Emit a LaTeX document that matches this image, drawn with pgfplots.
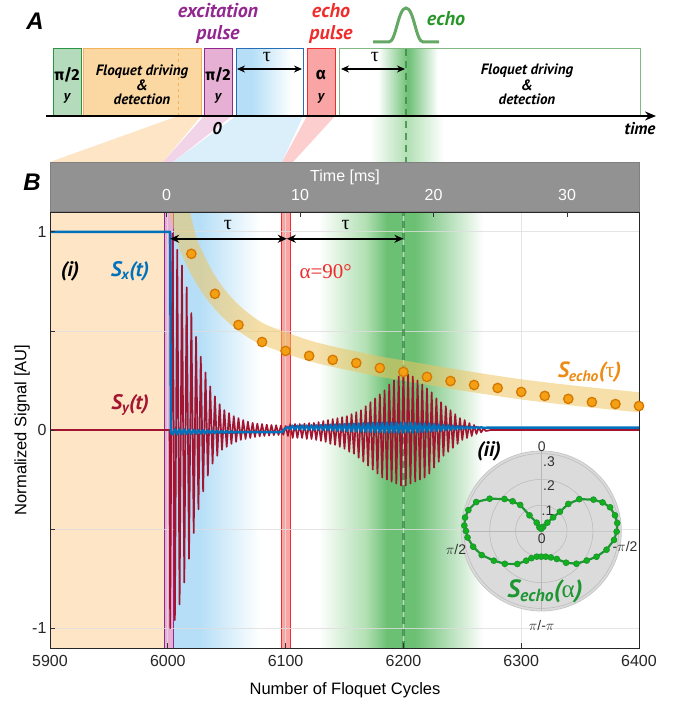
\documentclass[border=0pt]{standalone}
\usepackage{fontspec}
\usepackage{pgfplots}
\pgfplotsset{compat=1.18}
\usepgfplotslibrary{polar}
\usetikzlibrary{arrows.meta}
\setmainfont{Liberation Sans}
\newfontfamily\pts{PT Sans}
\newfontfamily\fira{Fira Sans}
\newfontfamily\tms{Liberation Serif}
\newcommand\fs[1]{\fontsize{#1}{#1}\selectfont}
\newcommand\bi{\pts\bfseries\itshape}
\definecolor{cSy}{RGB}{162,20,47}
\definecolor{cSx}{RGB}{0,114,189}
\definecolor{cOrBg}{RGB}{253,229,198}
\definecolor{cOrBox}{RGB}{251,216,162}
\definecolor{cOrLine}{RGB}{245,178,90}
\definecolor{cPink}{RGB}{229,176,212}
\definecolor{cPurp}{RGB}{146,39,143}
\definecolor{cBlue}{RGB}{182,223,247}
\definecolor{cBlueLine}{RGB}{40,110,180}
\definecolor{cRedBg}{RGB}{250,165,165}
\definecolor{cRed}{RGB}{238,45,45}
\definecolor{cGreen}{RGB}{108,192,116}
\definecolor{cGreenL}{RGB}{178,224,180}
\definecolor{cDGreen}{RGB}{62,135,72}
\definecolor{cGBox}{RGB}{180,220,188}
\definecolor{cGBoxLine}{RGB}{40,150,70}
\definecolor{cGBoxLine2}{RGB}{130,185,130}
\definecolor{cBell}{RGB}{100,168,100}
\definecolor{cBand}{RGB}{238,196,96}
\definecolor{cCirc}{RGB}{243,160,20}
\definecolor{cCircE}{RGB}{214,120,0}
\definecolor{cOrTxt}{RGB}{236,140,20}
\definecolor{cGray}{RGB}{146,146,146}
\definecolor{cEcho}{RGB}{30,150,50}
\definecolor{cEchoTxt}{RGB}{40,150,40}
\definecolor{cGrid}{RGB}{222,222,222}
\begin{document}
\begin{tikzpicture}[x=1pt,y=1pt]
\path[use as bounding box] (0pt,0pt) rectangle (691pt,705pt);
% ---------------- Panel A ----------------
\fill[cOrBg] (178,589) -- (201,589) -- (163,543) -- (50,543) -- cycle;
\fill[cPink!55] (204,589) -- (232,589) -- (173,543) -- (163,543) -- cycle;
\fill[cBlue!50] (236,589) -- (303,589) -- (282,543) -- (173,543) -- cycle;
\fill[cRedBg!55] (307,589) -- (335,589) -- (293,543) -- (282,543) -- cycle;
\shade[left color=white, right color=white, middle color=cGreenL] (370,543) rectangle (444,589);
\filldraw[fill=cGBox, draw=cGBoxLine, line width=1pt] (53,589) rectangle (81,656);
\filldraw[fill=cOrBox, draw=cOrLine, line width=1pt] (83,589) rectangle (201,656);
\draw[cOrLine, dashed, line width=0.8pt] (178,589) -- (178,656);
\filldraw[fill=cPink, draw=cPurp, line width=1pt] (204,589) rectangle (232,656);
\fill[cBlue] (236,589) rectangle (252,656);
\shade[left color=cBlue, right color=white] (252,589) rectangle (292,656);
\draw[cBlueLine, line width=1pt] (236,589) rectangle (303,656);
\filldraw[fill=cRedBg, draw=cRed, line width=1pt] (307,589) rectangle (335,656);
\fill[white] (339,589) rectangle (640,656);
\shade[left color=white, right color=white, middle color=cGreen] (378,589) rectangle (438,656);
\draw[cGBoxLine2, line width=1pt] (339,589) rectangle (640,656);
\draw[cDGreen, line width=2.5pt, dash pattern=on 7pt off 5pt, opacity=0.8] (406,656) -- (406,543);
\draw[line width=1.8pt, -{Stealth[length=11pt,width=9pt]}] (46,589) -- (656,589);
\draw[line width=2pt, {Stealth[length=8pt,width=7pt]}-{Stealth[length=8pt,width=7pt]}] (237,636) -- (302,636);
\draw[line width=2pt, {Stealth[length=8pt,width=7pt]}-{Stealth[length=8pt,width=7pt]}] (341,636) -- (405,636);
\node at (267,648) {\fs{20}\tms τ};
\node at (375,648) {\fs{20}\tms τ};
\draw[cBell, line width=3pt] (373,663) -- (389,663) .. controls (396,663) and (398,697) .. (406,697) .. controls (414,697) and (416,663) .. (423,663) -- (439,663);
\node at (35,684) {\fs{24}\bfseries\itshape A};
\node[text=cPurp, anchor=base] at (218,687) {\fs{20}\bi excitation};
\node[text=cPurp, anchor=base] at (218,665) {\fs{20}\bi pulse};
\node[text=cRed, anchor=base] at (331,687) {\fs{20}\bi echo};
\node[text=cRed, anchor=base] at (331,665) {\fs{20}\bi pulse};
\node[text=cEchoTxt, anchor=base] at (446,679) {\fs{20}\bi echo};
\node at (67,630) {\fs{16}\fira\bfseries π/2};
\node at (67,607) {\fs{14}\bi y};
\node at (218,630) {\fs{16}\fira\bfseries π/2};
\node at (218,607) {\fs{14}\bi y};
\node at (321,630) {\fs{17}\fira\bfseries α};
\node at (321,607) {\fs{14}\bi y};
\node at (142,633) {\fs{15}\bi Floquet driving};
\node at (142,620) {\fs{15}\bi \&};
\node at (142,606) {\fs{15}\bi detection};
\node at (527,634) {\fs{15}\bi Floquet driving};
\node at (527,620) {\fs{15}\bi \&};
\node at (527,606) {\fs{15}\bi detection};
\node at (217,576) {\fs{17}\bi 0};
\node at (640,576) {\fs{17}\bi time};
% ---------------- Panel B ----------------
\node at (32,523) {\fs{24}\bfseries\itshape B};
\begin{axis}[
  at={(50pt,57pt)}, anchor=south west, scale only axis, width=589pt, height=436pt,
  xmin=5900, xmax=6400, ymin=-1.1, ymax=1.1,
  xtick={5900,6000,6100,6200,6300,6400}, xticklabels={5900,6000,6100,6200,6300,6400},
  ytick={-1,-0.5,0,0.5,1}, yticklabels={-1,,0,,1},
  tick align=inside, xtick pos=left, ytick pos=left,
  major tick length=5pt,
  tick style={black!80, line width=0.7pt},
  axis line style={black!85, line width=0.9pt},
  ticklabel style={font=\fs{16}, text=black!85},
  xticklabel style={yshift=-4pt},
  axis on top,
]
\fill[cOrBg] (axis cs:5900,-1.1) rectangle (axis cs:5997.5,1.1);
\fill[cBlue] (axis cs:6005,-1.1) rectangle (axis cs:6028,1.1);
\shade[left color=cBlue, right color=white] (axis cs:6028,-1.1) rectangle (axis cs:6078,1.1);
\shade[left color=white, right color=cGreenL] (axis cs:6128,-1.1) rectangle (axis cs:6168,1.1);
\shade[left color=cGreenL, right color=cGreen] (axis cs:6168,-1.1) rectangle (axis cs:6186,1.1);
\fill[cGreen] (axis cs:6186,-1.1) rectangle (axis cs:6210,1.1);
\shade[left color=cGreen, right color=white] (axis cs:6210,-1.1) rectangle (axis cs:6268,1.1);
\filldraw[fill=cPink, draw=cPurp, line width=1pt] (axis cs:5997.5,-1.2) rectangle (axis cs:6005,1.2);
\filldraw[fill=cRedBg, draw=cRed, line width=1pt] (axis cs:6096.5,-1.2) rectangle (axis cs:6104.5,1.2);
\draw[cGrid, line width=0.7pt, opacity=0.8] (axis cs:6000,-1.1) -- (axis cs:6000,1.1);
\draw[cGrid, line width=0.7pt, opacity=0.8] (axis cs:6100,-1.1) -- (axis cs:6100,1.1);
\draw[cGrid, line width=0.7pt, opacity=0.8] (axis cs:6200,-1.1) -- (axis cs:6200,1.1);
\draw[cGrid, line width=0.7pt, opacity=0.8] (axis cs:6300,-1.1) -- (axis cs:6300,1.1);
\draw[cGrid, line width=0.7pt, opacity=0.8] (axis cs:5900,-1) -- (axis cs:6400,-1);
\draw[cGrid, line width=0.7pt, opacity=0.8] (axis cs:5900,-0.5) -- (axis cs:6400,-0.5);
\draw[cGrid, line width=0.7pt, opacity=0.8] (axis cs:5900,0) -- (axis cs:6400,0);
\draw[cGrid, line width=0.7pt, opacity=0.8] (axis cs:5900,0.5) -- (axis cs:6400,0.5);
\draw[cGrid, line width=0.7pt, opacity=0.8] (axis cs:5900,1) -- (axis cs:6400,1);
\draw[cDGreen, line width=2.5pt, dash pattern=on 7pt off 5pt, opacity=0.75] (axis cs:6200,-1.1) -- (axis cs:6200,1.1);
% S_echo(tau) fit band
\addplot[cBand, opacity=0.55, line width=20pt, smooth] coordinates {
(6008,1.16) (6015,0.98) (6020,0.90) (6030,0.78) (6040,0.69) (6050,0.62) (6060,0.565) (6070,0.52) (6080,0.485) (6100,0.44) (6120,0.40) (6140,0.37) (6160,0.345) (6180,0.32) (6200,0.30) (6250,0.25) (6300,0.205) (6350,0.17) (6400,0.14)};
% S_y(t)
\addplot[cSy, line width=1.7pt, line join=round] coordinates {
(5900,0) (6001.5,0) (6002,-1.00) (6004,0.99) (6006,-0.96) (6008,0.91) (6010,-0.88) (6012,0.83) (6014,-0.77) (6016,0.72) (6018,-0.65) (6020,0.59) (6022,-0.52) (6024,0.47) (6026,-0.40) (6028,0.37) (6030,-0.31) (6032,0.29) (6034,-0.23) (6036,0.22) (6038,-0.17) (6040,0.17) (6042,-0.13) (6044,0.13) (6046,-0.10) (6048,0.10) (6050,-0.085) (6052,0.085) (6054,-0.07) (6056,0.07) (6058,-0.06) (6060,0.06) (6062,-0.05) (6064,0.05) (6066,-0.045) (6068,0.042) (6070,-0.04) (6072,0.036) (6074,-0.035) (6076,0.032) (6078,-0.032) (6080,0.03) (6082,-0.03) (6084,0.027) (6086,-0.028) (6088,0.025) (6090,-0.026) (6092,0.024) (6094,-0.025) (6096,0.022) (6098,-0.024) (6100,0.02) (6102,-0.03)
(6104,0.03) (6106,-0.04) (6108,0.03) (6110,-0.04) (6112,0.03) (6114,-0.04) (6116,0.032) (6118,-0.045) (6120,0.035) (6122,-0.045) (6124,0.036) (6126,-0.05) (6128,0.04) (6130,-0.055) (6132,0.045) (6134,-0.06) (6136,0.05) (6138,-0.07) (6140,0.055) (6142,-0.075) (6144,0.06) (6146,-0.085) (6148,0.065) (6150,-0.095) (6152,0.07) (6154,-0.11) (6156,0.08) (6158,-0.12) (6160,0.09) (6162,-0.14) (6164,0.10) (6166,-0.16) (6168,0.12) (6170,-0.18) (6172,0.14) (6174,-0.20) (6176,0.16) (6178,-0.22) (6180,0.18) (6182,-0.24) (6184,0.20) (6186,-0.25) (6188,0.23) (6190,-0.26) (6192,0.25) (6194,-0.27) (6196,0.27) (6198,-0.28) (6200,0.29) (6202,-0.28) (6204,0.28) (6206,-0.27) (6208,0.27) (6210,-0.26) (6212,0.25) (6214,-0.25) (6216,0.23) (6218,-0.24) (6220,0.21) (6222,-0.22) (6224,0.19) (6226,-0.19) (6228,0.16) (6230,-0.16) (6232,0.14) (6234,-0.13) (6236,0.12) (6238,-0.11) (6240,0.10) (6242,-0.09) (6244,0.08) (6246,-0.07) (6248,0.06) (6250,-0.05) (6252,0.05) (6254,-0.04) (6256,0.035) (6258,-0.03) (6260,0.025) (6262,-0.02) (6264,0.015) (6266,-0.012) (6268,0.008) (6270,-0.005) (6274,0) (6400,0)};
% S_x(t)
\addplot[cSx, line width=2.4pt, line join=round] coordinates {
(5900,1) (6002,1) (6002.6,-0.012)
(6004,-0.022) (6006,0.004) (6008,-0.022) (6010,0.004) (6012,-0.021) (6014,0.003) (6016,-0.020) (6018,0.002) (6020,-0.019) (6022,0.001) (6024,-0.018) (6026,0.000) (6028,-0.018) (6030,-0.001) (6032,-0.017) (6034,-0.002) (6036,-0.016) (6038,-0.003) (6040,-0.016) (6042,-0.004) (6044,-0.015) (6046,-0.005) (6048,-0.015) (6050,-0.006) (6052,-0.014) (6054,-0.007) (6056,-0.014) (6058,-0.008) (6060,-0.013) (6062,-0.009) (6064,-0.012) (6066,-0.010) (6070,-0.011) (6097,-0.011) (6099,0.004)
(6102,0.016) (6104,0.004) (6106,0.022) (6108,0.003) (6110,0.022) (6112,0.003) (6114,0.023) (6116,0.002) (6118,0.023) (6120,0.002) (6122,0.024) (6124,0.001) (6126,0.024) (6128,0.001) (6130,0.025) (6132,0.000) (6134,0.026) (6136,-0.001) (6138,0.027) (6140,-0.002) (6142,0.028) (6144,-0.003) (6146,0.029) (6148,-0.004) (6150,0.030) (6152,-0.005) (6154,0.031) (6156,-0.006) (6158,0.032) (6160,-0.007) (6162,0.033) (6164,-0.008) (6166,0.034) (6168,-0.009) (6170,0.035) (6172,-0.010) (6174,0.036) (6176,-0.011) (6178,0.036) (6180,-0.012) (6182,0.037) (6184,-0.012) (6186,0.037) (6188,-0.013) (6190,0.037) (6192,-0.013) (6194,0.037) (6196,-0.013) (6198,0.037) (6200,-0.013) (6202,0.036) (6204,-0.012) (6206,0.036) (6208,-0.012) (6210,0.035) (6212,-0.011) (6214,0.034) (6216,-0.010) (6218,0.033) (6220,-0.009) (6222,0.032) (6224,-0.007) (6226,0.030) (6228,-0.005) (6230,0.028) (6232,-0.003) (6234,0.026) (6236,-0.001) (6238,0.024) (6240,0.001) (6242,0.022) (6244,0.003) (6246,0.020) (6248,0.005) (6250,0.018) (6252,0.007) (6254,0.017) (6256,0.008) (6258,0.016) (6260,0.009) (6262,0.015) (6264,0.010) (6266,0.014) (6268,0.011) (6272,0.012) (6400,0.012)};
% S_echo(tau) points
\addplot[only marks, mark=*, mark size=4.7pt, mark options={fill=cCirc, draw=cCircE, line width=1.3pt}] coordinates {
(6020,0.889) (6040,0.687) (6060,0.530) (6080,0.444) (6100,0.399) (6120,0.374) (6140,0.354) (6160,0.338) (6180,0.313) (6200,0.293) (6220,0.268) (6240,0.247) (6260,0.227) (6280,0.212) (6300,0.192) (6320,0.172) (6340,0.157) (6360,0.141) (6380,0.131) (6400,0.121)};
\draw[line width=2pt, {Stealth[length=9pt,width=8pt]}-{Stealth[length=9pt,width=8pt]}] (axis cs:6002,0.965) -- (axis cs:6101,0.965);
\draw[line width=2pt, {Stealth[length=9pt,width=8pt]}-{Stealth[length=9pt,width=8pt]}] (axis cs:6101,0.965) -- (axis cs:6200,0.965);
\node at (axis cs:6051,1.035) {\fs{20}\tms τ};
\node at (axis cs:6151,1.035) {\fs{20}\tms τ};
\node at (axis cs:5917,0.80) {\fs{21}\bi (i)};
\node[text=cSx] at (axis cs:5968,0.80) {\fs{21}\bi S\textsubscript{x}(t)};
\node[text=cSy] at (axis cs:5968,0.126) {\fs{21}\bi S\textsubscript{y}(t)};
\node[text=cRed] at (axis cs:6134,0.80) {\fs{21}\tms α=90°};
\node[text=cOrTxt] at (axis cs:6358,0.293) {\fs{22}\bi S\textsubscript{echo}({\tms\mdseries\upshape τ})};
\end{axis}
% gray time band, drawn over the plot's top edge
\filldraw[fill=cGray, draw=black!50, line width=0.6pt] (50,493.5) rectangle (639,543);
\draw[black!85, line width=0.9pt] (50,493) -- (639,493);
% top time axis
\begin{axis}[
  at={(50pt,57pt)}, anchor=south west, scale only axis, width=589pt, height=436pt,
  xmin=-8.727, xmax=35.39, ymin=0, ymax=1,
  axis x line*=top, axis y line=none,
  xtick={0,10,20,30}, xticklabels={0,10,20,30},
  tick align=inside, major tick length=5pt,
  tick style={black!80, line width=0.7pt},
  axis line style={draw=none},
  xticklabel style={anchor=center, yshift=17pt, font=\fs{16}, text=white},
]
\end{axis}
\node[text=white] at (345,528) {\fs{16}Time [ms]};
% x and y labels
\node at (345,15) {\fs{16.5}Number of Floquet Cycles};
\node[rotate=90] at (22,275) {\fs{16.5}Normalized Signal [AU]};
% polar inset
\begin{polaraxis}[
  at={(541.3pt,174pt)}, anchor=center, scale only axis, width=160pt, height=160pt,
  ymin=0, ymax=0.31,
  xtick={0,90,180,270}, xticklabels={},
  ytick={0.1,0.2,0.3}, yticklabels={},
  axis background/.style={fill=black!14},
  grid=major, grid style={black!28, line width=0.5pt},
  axis line style={black!22, line width=0.8pt},
  major tick length=0pt,
]
\addplot[cEcho, line width=2.2pt, mark=*, mark size=2.9pt, mark options={fill=cEcho!85!black!60!green, draw=cEcho, line width=0.8pt}] coordinates {
(90,0.009) (118,0.016) (119,0.037) (127,0.076) (129,0.130) (134,0.160) (139,0.189) (148,0.236) (156,0.276) (164,0.294) (170,0.300) (176,0.299) (180,0.292) (185,0.287) (193,0.271) (202,0.249) (212,0.217) (222,0.190) (234,0.158) (243,0.129) (250,0.112) (260,0.101) (270,0.0995) (280,0.101) (290,0.109) (299,0.124) (308,0.156) (317,0.186) (327,0.210) (335,0.236) (344,0.263) (353,0.284) (359.5,0.292) (6,0.296) (12,0.292) (19,0.282) (25,0.262) (31,0.236) (40,0.192) (45,0.148) (46,0.104) (49,0.070) (54,0.040) (65,0.018) (90,0.009)};
\end{polaraxis}
\node[text=black!80] at (541.7,258) {\fs{14}0};
\node[text=black!80] at (549,243.3) {\fs{14}.3};
\node[text=black!80] at (549,219) {\fs{14}.2};
\node[text=black!80] at (547.5,194.3) {\fs{14}.1};
\node[text=black!80] at (541.7,166.7) {\fs{14}0};
\node[text=black!80] at (456,155.7) {\fs{14}$\pi$/2};
\node[text=black!80] at (625,159) {\fs{14}-$\pi$/2};
\node[text=black!80] at (541.7,80) {\fs{14}$\pi$/-$\pi$};
\node at (489,253.3) {\fs{21}\bi (ii)};
\node[text=cEcho] at (545,113.3) {\fs{25}\bi S\textsubscript{echo}({\tms\mdseries\upshape α})};
\end{tikzpicture}
\end{document}
